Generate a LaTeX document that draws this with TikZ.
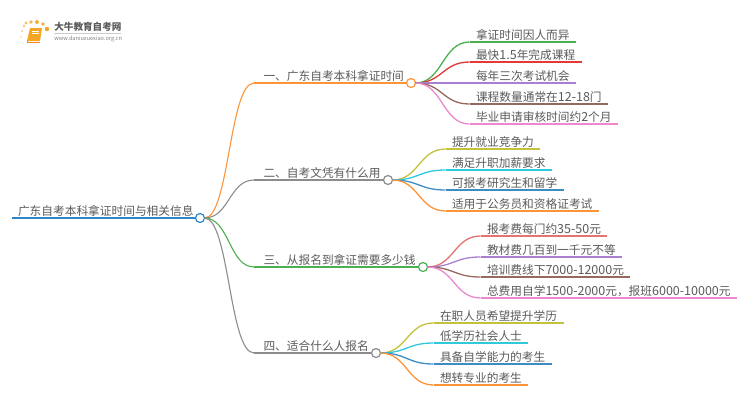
\documentclass[tikz,border=0pt]{standalone}
\usepackage{fontspec}
\setmainfont{Noto Sans CJK SC}
\usepackage{tikz}
\usetikzlibrary{positioning, calc}
\definecolor{cRoot}{HTML}{2E86C8}
\definecolor{cOrange}{HTML}{FF9338}
\definecolor{cGray}{HTML}{8C8C8C}
\definecolor{cGreen}{HTML}{4CAF50}
\definecolor{cRed}{HTML}{E53935}
\definecolor{cSalmon}{HTML}{E57373}
\definecolor{cPurple}{HTML}{AB7FD0}
\definecolor{cBrown}{HTML}{96695F}
\definecolor{cPink}{HTML}{EB88CE}
\definecolor{cOlive}{HTML}{C4C23C}
\definecolor{cCyan}{HTML}{2FC9DC}
\definecolor{cBlue}{HTML}{3D8DC4}
\definecolor{cText}{HTML}{5A5A5A}
\definecolor{cLogo}{HTML}{F5A623}
\newcommand{\digs}[1]{{\fontsize{12.5pt}{12pt}\selectfont #1}}
\begin{document}
\begin{tikzpicture}[x=1pt, y=-1pt, semithick]
	\tikzstyle{every node}=[text=cText, font=\fontsize{11.7pt}{12pt}\selectfont]
	\tikzstyle{txt}=[anchor=south west, inner ysep=1.5pt, outer sep=0pt, text height=9.5pt, text depth=1.5pt]
	\tikzstyle{leaf}=[txt, inner xsep=6.5pt]
	\tikzstyle{branch}=[txt, inner xsep=9.5pt]
	\tikzstyle{hub}=[circle, draw, fill=white, line width=1.2pt, minimum size=9pt, inner sep=0pt, outer sep=0pt]
	\tikzstyle{curve}=[to path={.. controls ($(\tikztostart)!.5!(\tikztotarget|-\tikztostart)$) and ($(\tikztotarget)!.5!(\tikztostart|-\tikztotarget)$) .. (\tikztotarget)}]
	\tikzstyle{thin line}=[line width=1.3pt]

	\useasboundingbox (0,0) rectangle (750,410);

	% logo
	\foreach \px/\py/\pr/\po in {24/26/1.5/.6, 26/23/1.6/.7, 31/22/1.8/.8, 37/22/2/.9, 43/24/1.8/.9, 47/29/2.2/1, 22/31/1.2/.5, 21/37/1/.35, 23/43/1/.2}
		\fill[cLogo, opacity=\po] (\px,\py) circle (\pr);
	\fill[cLogo] (30,28) -- (42,28) -- (40,41) -- (27,41) -- cycle;
	\draw[cLogo!80!red, line width=1pt] (27,41) -- (27,42.5) -- (40,42.5);
	\draw[white, line width=.6pt] (32,31) -- (39,31) (31.5,33) -- (38.5,33);
	\node[anchor=west, inner sep=0pt, font=\fontsize{9.6pt}{10pt}\selectfont\bfseries, text=cText] (logotitle) at (54,27) {大牛教育自考网};
	\draw[gray!40, line width=.5pt] (54,33.5) -- (121,33.5);
	\node[anchor=west, inner sep=0pt, font=\fontsize{5.6pt}{6pt}\selectfont, text=gray] (logourl) at (54,38.5) {www.daniuxuexiao.org.cn};

	% root
	\node[txt, inner xsep=6pt] (root) at (12,218) {广东自考本科拿证时间与相关信息};
	\node[hub, draw=cRoot] (H0) at (200,218) {};
	\draw[cRoot, line width=1.6pt] (root.south west) -- (H0.west);

	% branches
	\node[branch] (B1) at (254,83) {一、广东自考本科拿证时间};
	\node[hub, draw=cOrange] (H1) at (411,83) {};
	\node[branch] (B2) at (254,180) {二、自考文凭有什么用};
	\node[hub, draw=cGray] (H2) at (388,180) {};
	\node[branch] (B3) at (254,267) {三、从报名到拿证需要多少钱};
	\node[hub, draw=cGreen] (H3) at (423,267) {};
	\node[branch] (B4) at (254,353) {四、适合什么人报名};
	\node[hub, draw=cGray] (H4) at (376,353) {};

	\path[line width=1.1pt]
	(H0.east) edge[curve, cOrange] (B1.south west)
	(H0.east) edge[curve, cGray] (B2.south west)
	(H0.east) edge[curve, cGreen] (B3.south west)
	(H0.east) edge[curve, cGray] (B4.south west);
	\path[line width=1.5pt]
	(B1.south west) edge[cOrange] (H1.west)
	(B2.south west) edge[cGray] (H2.west)
	(B3.south west) edge[cGreen] (H3.west)
	(B4.south west) edge[cGray] (H4.west);

	% leaves
	\node[leaf] (A1) at (469.5,42) {拿证时间因人而异};
	\node[leaf] (A2) at (469.5,62) {最快\digs{1.5}年完成课程};
	\node[leaf] (A3) at (469.5,83) {每年三次考试机会};
	\node[leaf] (A4) at (469.5,104) {课程数量通常在\digs{12-18}门};
	\node[leaf] (A5) at (469.5,124) {毕业申请审核时间约\digs{2}个月};
	\node[leaf] (C1) at (445.5,149) {提升就业竞争力};
	\node[leaf] (C2) at (445.5,170) {满足升职加薪要求};
	\node[leaf] (C3) at (445.5,190) {可报考研究生和留学};
	\node[leaf] (C4) at (445.5,211) {适用于公务员和资格证考试};
	\node[leaf] (D1) at (480.5,236) {报考费每门约\digs{35-50}元};
	\node[leaf] (D2) at (480.5,257) {教材费几百到一千元不等};
	\node[leaf] (D3) at (480.5,277) {培训费线下\digs{7000-12000}元};
	\node[leaf] (D4) at (480.5,298) {总费用自学\digs{1500-2000}元，报班\digs{6000-10000}元};
	\node[leaf] (E1) at (433.5,323) {在职人员希望提升学历};
	\node[leaf] (E2) at (433.5,343) {低学历社会人士};
	\node[leaf] (E3) at (433.5,364) {具备自学能力的考生};
	\node[leaf] (E4) at (433.5,385) {想转专业的考生};

	\path[thin line]
	(H1.east) edge[curve, cGreen] (A1.south west) (A1.south west) edge[cGreen] (A1.south east)
	(H1.east) edge[curve, cRed] (A2.south west) (A2.south west) edge[cRed] (A2.south east)
	(H1.east) edge[curve, cPurple] (A3.south west) (A3.south west) edge[cPurple] (A3.south east)
	(H1.east) edge[curve, cBrown] (A4.south west) (A4.south west) edge[cBrown] (A4.south east)
	(H1.east) edge[curve, cPink] (A5.south west) (A5.south west) edge[cPink] (A5.south east)
	(H2.east) edge[curve, cOlive] (C1.south west) (C1.south west) edge[cOlive] (C1.south east)
	(H2.east) edge[curve, cCyan] (C2.south west) (C2.south west) edge[cCyan] (C2.south east)
	(H2.east) edge[curve, cBlue] (C3.south west) (C3.south west) edge[cBlue] (C3.south east)
	(H2.east) edge[curve, cOrange] (C4.south west) (C4.south west) edge[cOrange] (C4.south east)
	(H3.east) edge[curve, cSalmon] (D1.south west) (D1.south west) edge[cSalmon] (D1.south east)
	(H3.east) edge[curve, cPurple] (D2.south west) (D2.south west) edge[cPurple] (D2.south east)
	(H3.east) edge[curve, cBrown] (D3.south west) (D3.south west) edge[cBrown] (D3.south east)
	(H3.east) edge[curve, cPink] (D4.south west) (D4.south west) edge[cPink] (D4.south east)
	(H4.east) edge[curve, cOlive] (E1.south west) (E1.south west) edge[cOlive] (E1.south east)
	(H4.east) edge[curve, cCyan] (E2.south west) (E2.south west) edge[cCyan] (E2.south east)
	(H4.east) edge[curve, cBlue] (E3.south west) (E3.south west) edge[cBlue] (E3.south east)
	(H4.east) edge[curve, cOrange] (E4.south west) (E4.south west) edge[cOrange] (E4.south east);
\end{tikzpicture}
\end{document}
